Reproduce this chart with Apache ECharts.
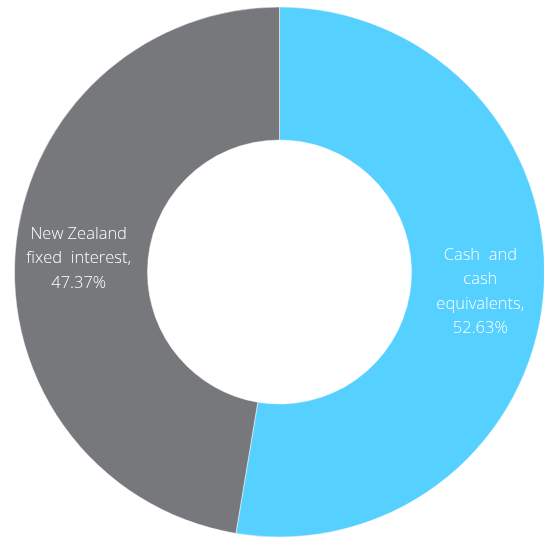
<!DOCTYPE html>
<html>
<head>
<meta charset="utf-8">
<script src="https://cdn.jsdelivr.net/npm/echarts@6/dist/echarts.min.js"></script>
<style>
html,body{margin:0;padding:0;background:#fff;}
#chart{width:544px;height:539px;}
</style>
</head>
<body>
<div id="chart"></div>
<script>
const categories = ["Cash  and\ncash\nequivalents,", "New Zealand\nfixed  interest,"];
const values = [52.63, 47.37];
const colors = ["#56D0FF", "#77787C"];

const chart = echarts.init(document.getElementById('chart'), null, {renderer: 'canvas'});
chart.setOption({
  animation: false,
  series: [{
    type: 'pie',
    center: [279.5, 272],
    radius: [132, 265],
    startAngle: 90,
    clockwise: true,
    avoidLabelOverlap: false,
    itemStyle: { borderColor: '#ffffff', borderWidth: 0.5 },
    label: {
      show: true,
      position: 'inside',
      offset: [0, 3],
      color: '#ffffff',
      fontFamily: 'Open Sans',
      fontWeight: 300,
      fontSize: 16.5,
      lineHeight: 24.5,
      align: 'center',
      formatter: function (p) { return p.name + '\n' + p.value.toFixed(2) + '%'; }
    },
    labelLine: { show: false },
    emphasis: { disabled: true },
    data: categories.map((c, i) => ({ name: c, value: values[i], itemStyle: { color: colors[i] } }))
  }]
});
</script>
</body>
</html>
